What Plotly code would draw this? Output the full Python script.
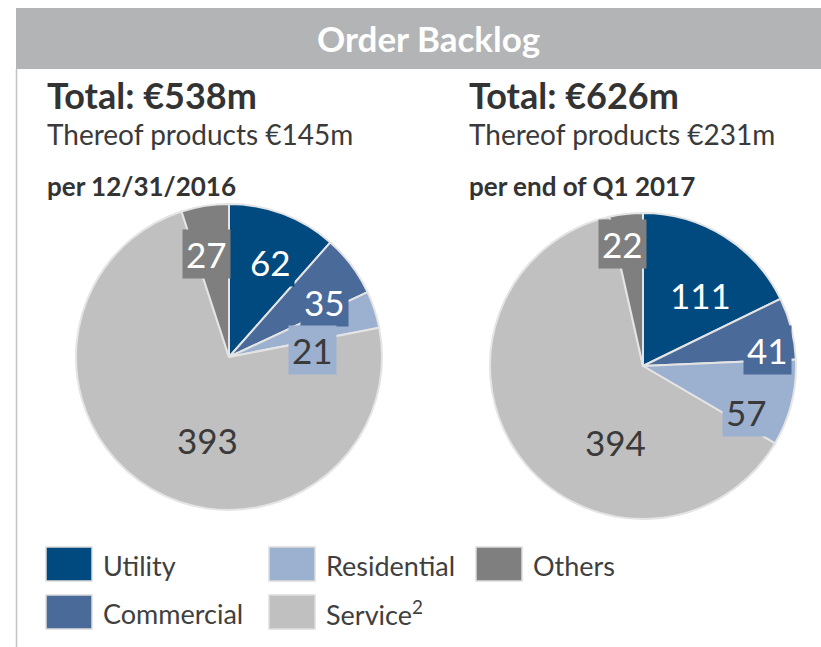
import math
import plotly.graph_objects as go

# ---------------- data ----------------
categories = ["Utility", "Commercial", "Residential", "Service", "Others"]
legend_labels = ["Utility", "Commercial", "Residential", "Service<sup>2</sup>", "Others"]
values_2016 = [62, 35, 21, 393, 27]
values_q1_2017 = [111, 41, 57, 394, 22]
totals = ["Total: €538m", "Total: €626m"]
products = ["Thereof products €145m", "Thereof products €231m"]
periods = ["per 12/31/2016", "per end of Q1 2017"]
title_text = "Order Backlog"

# ---------------- style ----------------
W, H = 821, 647
colors = ["#004a7f", "#4a6a9a", "#9cb0cf", "#c0c0c0", "#7f7f7f"]
label_font_colors = ["white", "white", "#3a3a3a", "#3a3a3a", "white"]
FONT = "Lato"
TXT = "#333333"

# pie geometry (pixels): centre x, centre y, radius
pies = [
    dict(values=values_2016, cx=229, cy=357, r=153,
         lab_r=[0.68, 0.72, 0.55, 0.56, 0.69], lab_da=[3, 7, 13, -16, -3.5]),
    dict(values=values_q1_2017, cx=643, cy=366, r=153,
         lab_r=[0.60, 0.82, 0.74, 0.53, 0.81], lab_da=[7, 7, 10, -34, -3]),
]


def px(x):
    return x / W


def py(y):
    return 1 - y / H


fig = go.Figure()
annotations = []
shapes = []

for p in pies:
    cx, cy, r = p["cx"], p["cy"], p["r"]
    fig.add_trace(go.Pie(
        labels=categories, values=p["values"], sort=False,
        direction="clockwise", rotation=0,
        marker=dict(colors=colors, line=dict(color="#e4e4e4", width=2)),
        textinfo="none", hoverinfo="label+value", showlegend=False,
        domain=dict(x=[px(cx - r), px(cx + r)], y=[py(cy + r), py(cy - r)]),
    ))
    total = sum(p["values"])
    cum = 0
    for i, v in enumerate(p["values"]):
        mid = (cum + v / 2) / total * 360 + p["lab_da"][i]
        cum += v
        rr = p["lab_r"][i] * r
        lx = cx + rr * math.sin(math.radians(mid))
        ly = cy - rr * math.cos(math.radians(mid))
        annotations.append(dict(
            x=px(lx), y=py(ly), xref="paper", yref="paper", showarrow=False,
            text=str(v), xanchor="center", yanchor="middle",
            font=dict(family=FONT, size=35, color=label_font_colors[i]),
            bgcolor=colors[i], borderpad=3,
        ))

# header bar
shapes.append(dict(type="rect", xref="paper", yref="paper",
                   x0=px(16), x1=1, y0=py(69), y1=py(8),
                   fillcolor="#b3b4b6", line=dict(width=0), layer="below"))
shapes.append(dict(type="line", xref="paper", yref="paper",
                   x0=px(16.5), x1=px(16.5), y0=0, y1=py(69),
                   line=dict(color="#c4c4c4", width=1.5)))
annotations.append(dict(x=px(428), y=py(38), xref="paper", yref="paper",
                        showarrow=False, text="<b>" + title_text + "</b>",
                        font=dict(family=FONT, size=35, color="white"),
                        xanchor="center", yanchor="middle"))

# header texts per pie
for x0, t, pr, pe in zip([45, 467], totals, products, periods):
    annotations.append(dict(x=px(x0), y=py(95), xref="paper", yref="paper",
                            showarrow=False, text="<b>" + t + "</b>",
                            font=dict(family=FONT, size=36, color=TXT),
                            xanchor="left", yanchor="middle"))
    annotations.append(dict(x=px(x0), y=py(134), xref="paper", yref="paper",
                            showarrow=False, text=pr,
                            font=dict(family=FONT, size=28, color="#3a3a3a"),
                            xanchor="left", yanchor="middle"))
    annotations.append(dict(x=px(x0), y=py(186), xref="paper", yref="paper",
                            showarrow=False, text="<b>" + pe + "</b>",
                            font=dict(family=FONT, size=26, color=TXT),
                            xanchor="left", yanchor="middle"))

# custom legend (column-major, two rows)
leg_cols = [46, 269, 476]
leg_rows = [564, 612]
for i, lab in enumerate(legend_labels):
    col, row = divmod(i, 2)
    x0 = leg_cols[col]
    yc = leg_rows[row]
    shapes.append(dict(type="rect", xref="paper", yref="paper",
                       x0=px(x0), x1=px(x0 + 46), y0=py(yc + 17), y1=py(yc - 17),
                       fillcolor=colors[i], line=dict(color="#dddddd", width=1.5)))
    annotations.append(dict(x=px(x0 + 55), y=py(yc + 1), xref="paper", yref="paper",
                            showarrow=False, text=lab,
                            font=dict(family=FONT, size=27, color="#404040"),
                            xanchor="left", yanchor="middle"))

fig.update_layout(
    width=W, height=H, margin=dict(l=0, r=0, t=0, b=0),
    paper_bgcolor="white", plot_bgcolor="white",
    annotations=annotations, shapes=shapes, showlegend=False,
)
fig.write_html("out.html", config={"displayModeBar": False})

# remove the default 8px body margin of the page
with open("out.html", encoding="utf-8") as f:
    html = f.read()
html = html.replace("<body>", '<body style="margin:0;padding:0;">', 1)
with open("out.html", "w", encoding="utf-8") as f:
    f.write(html)
